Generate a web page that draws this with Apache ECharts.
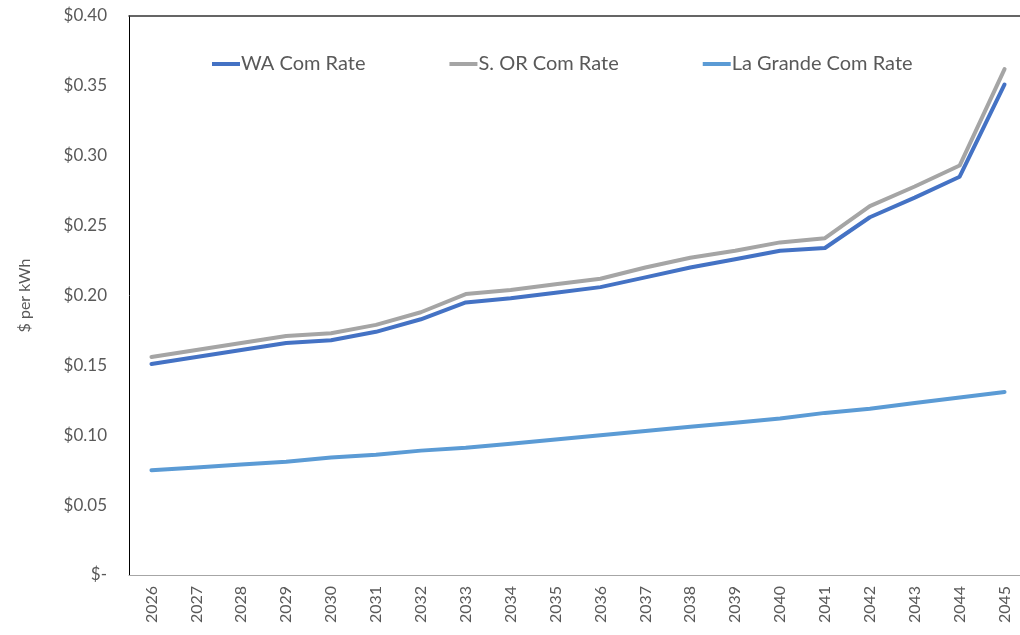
<!DOCTYPE html>
<html>
<head>
    <meta charset="UTF-8">
    <title>Com Rates</title>
    <script src="https://cdn.jsdelivr.net/npm/echarts@6/dist/echarts.min.js"></script>
    <style>
        html, body { margin: 0; padding: 0; background: #fff; overflow: hidden; }
        /* plot area runs past the right edge of the picture, as in the original */
        #view { width: 1040px; height: 635px; }
    </style>
</head>
<body>
<div id="view"></div>
<script type="text/javascript">
    var years = ['2026','2027','2028','2029','2030','2031','2032','2033','2034','2035',
                 '2036','2037','2038','2039','2040','2041','2042','2043','2044','2045'];
    var waRate = [0.151, 0.156, 0.161, 0.166, 0.168, 0.174, 0.183, 0.195, 0.198, 0.202,
                  0.206, 0.213, 0.220, 0.226, 0.232, 0.234, 0.256, 0.270, 0.285, 0.351];
    var sorRate = [0.156, 0.161, 0.166, 0.171, 0.173, 0.179, 0.188, 0.201, 0.204, 0.208,
                   0.212, 0.220, 0.227, 0.232, 0.238, 0.241, 0.264, 0.278, 0.293, 0.362];
    var laGrandeRate = [0.075, 0.077, 0.079, 0.081, 0.084, 0.086, 0.089, 0.091, 0.094, 0.097,
                        0.100, 0.103, 0.106, 0.109, 0.112, 0.116, 0.119, 0.123, 0.127, 0.131];
    var seriesNames = ['WA Com Rate', 'S. OR Com Rate', 'La Grande Com Rate'];

    var font = 'Lato, "Open Sans", sans-serif';
    var myChart = echarts.init(document.getElementById('view'));

    function line(name, data, color) {
        return {
            name: name,
            type: 'line',
            data: data,
            symbol: 'none',
            smooth: false,
            lineStyle: { width: 4, color: color, cap: 'round', join: 'round' },
            itemStyle: { color: color }
        };
    }

    var option = {
        animation: false,
        backgroundColor: '#fff',
        textStyle: { fontFamily: font },
        legend: {
            top: 49,
            left: 207,
            itemGap: 84,
            itemWidth: 28,
            itemHeight: 4,
            icon: 'rect',
            textStyle: { fontSize: 20, color: '#595959', fontFamily: font, padding: [0, 0, 0, -4] },
            data: seriesNames
        },
        grid: {
            left: 129,
            top: 16,
            width: 898,
            height: 559,
            containLabel: false
        },
        xAxis: [{
            type: 'category',
            data: years,
            boundaryGap: true,
            axisLine: { show: true, lineStyle: { color: '#A6A6A6', width: 1 } },
            axisTick: { show: false },
            axisLabel: {
                rotate: 90,
                margin: 11,
                fontSize: 16,
                color: '#595959',
                fontFamily: font
            }
        }, {
            // top edge of the plot frame
            type: 'category',
            position: 'top',
            data: years,
            axisLine: { show: true, lineStyle: { color: '#333', width: 1.5 } },
            axisTick: { show: false },
            axisLabel: { show: false }
        }],
        yAxis: {
            type: 'value',
            min: 0,
            max: 0.4,
            interval: 0.05,
            name: '$ per kWh',
            nameLocation: 'middle',
            nameGap: 96,
            nameRotate: 90,
            nameTextStyle: { fontSize: 16, color: '#595959', fontFamily: font },
            axisLine: { show: true, lineStyle: { color: '#000', width: 1 } },
            axisTick: { show: false },
            splitLine: { show: false },
            axisLabel: {
                margin: 22,
                fontSize: 17,
                color: '#595959',
                fontFamily: font,
                formatter: function (v) {
                    return v === 0 ? '$-' : '$' + v.toFixed(2);
                }
            }
        },
        series: [
            line(seriesNames[0], waRate, '#4472C4'),
            line(seriesNames[1], sorRate, '#A5A5A5'),
            line(seriesNames[2], laGrandeRate, '#5B9BD5')
        ]
    };
    myChart.setOption(option);
</script>
</body>
</html>
